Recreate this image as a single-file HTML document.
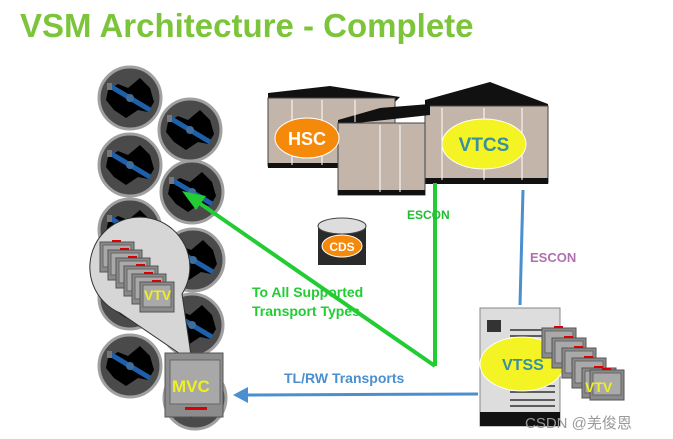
<!DOCTYPE html>
<html><head><style>
body{margin:0;background:#fff;width:673px;height:439px;overflow:hidden}
svg{display:block}
text{font-family:"Liberation Sans",Arial,sans-serif;font-weight:bold}
</style></head><body>
<svg width="673" height="439" viewBox="0 0 673 439" xmlns="http://www.w3.org/2000/svg">
<defs>
<g id="tape">
<circle r="31" fill="#4a4a4a" stroke="#a0a0a0" stroke-width="3"/>
<polygon points="-22,-8 -12,-14 -2,-10 10,-20 20,-10 24,4 18,14 8,12 -4,20 -16,12 -24,2" fill="#000"/>
<line x1="-20" y1="-12" x2="20" y2="12" stroke="#1d5fa8" stroke-width="5"/>
<circle r="4" fill="#3f6d9c"/>
<rect x="-23" y="-15" width="5" height="7" fill="#777"/>
</g>
<g id="vtv">
<rect x="0" y="0" width="34" height="30" fill="#8a8a8a" stroke="#555"/>
<rect x="3" y="3" width="28" height="22" fill="#a9a9a9" stroke="#666"/>
<rect x="12" y="-2" width="9" height="2" fill="#d00"/>
</g>
</defs>
<text x="20" y="37" font-size="33" fill="#7cc43a">VSM Architecture - Complete</text>

<use href="#tape" x="130" y="98"/>
<use href="#tape" x="190" y="130"/>
<use href="#tape" x="130" y="165"/>
<use href="#tape" x="192" y="192"/>
<use href="#tape" x="130" y="230"/>
<use href="#tape" x="193" y="260"/>
<use href="#tape" x="130" y="298"/>
<use href="#tape" x="192" y="325"/>
<use href="#tape" x="130" y="366"/>
<use href="#tape" x="195" y="398"/>

<!-- bubble -->
<path d="M 120,313 A 50 50 0 1 1 182,294 L 192,362 Z" fill="#d6d6d6" stroke="#333"/>
<use href="#vtv" x="100" y="242"/>
<use href="#vtv" x="108" y="250"/>
<use href="#vtv" x="116" y="258"/>
<use href="#vtv" x="124" y="266"/>
<use href="#vtv" x="132" y="274"/>
<use href="#vtv" x="140" y="282"/>
<text x="144" y="300" font-size="14" fill="#f0f020">VTV</text>

<!-- MVC -->
<rect x="165" y="353" width="58" height="64" fill="#8c8c8c" stroke="#555"/>
<rect x="170" y="360" width="50" height="44" fill="#a8a8a8" stroke="#666"/>
<text x="172" y="392" font-size="17" fill="#f0f020">MVC</text>
<rect x="185" y="407" width="22" height="3" fill="#d00"/>

<!-- servers -->
<polygon points="268,93 330,86 400,97 395,102 268,100" fill="#111"/>
<rect x="268" y="98" width="127" height="68" fill="#c4b5aa" stroke="#444"/>
<rect x="268" y="163" width="127" height="5" fill="#111"/>
<polygon points="425,100 490,82 548,104 548,110 425,108" fill="#111"/>
<rect x="425" y="106" width="123" height="77" fill="#c4b5aa" stroke="#444"/>
<rect x="425" y="178" width="123" height="6" fill="#111"/>
<polygon points="338,120 380,108 430,104 430,115 338,125" fill="#111"/>
<rect x="338" y="123" width="87" height="72" fill="#c4b5aa" stroke="#444"/>
<rect x="338" y="190" width="87" height="5" fill="#111"/>
<g stroke="#fff" stroke-width="1">
<line x1="292" y1="100" x2="292" y2="165"/><line x1="322" y1="100" x2="322" y2="165"/><line x1="355" y1="100" x2="355" y2="122"/>
<line x1="380" y1="125" x2="380" y2="192"/><line x1="400" y1="125" x2="400" y2="192"/>
<line x1="442" y1="108" x2="442" y2="180"/><line x1="484" y1="108" x2="484" y2="180"/><line x1="522" y1="108" x2="522" y2="180"/>
</g>
<ellipse cx="307" cy="138" rx="32" ry="20" fill="#f58a0a" stroke="#fff"/>
<text x="307" y="145" font-size="18" fill="#fff" text-anchor="middle">HSC</text>
<ellipse cx="484" cy="144" rx="42" ry="25" fill="#f4f424" stroke="#fff"/>
<text x="484" y="151" font-size="19" fill="#3a8fa0" text-anchor="middle">VTCS</text>

<!-- CDS -->
<rect x="318" y="226" width="48" height="39" fill="#2a2a2a"/>
<ellipse cx="342" cy="226" rx="24" ry="8" fill="#ddd" stroke="#444"/>
<ellipse cx="342" cy="246" rx="20" ry="11" fill="#f58a0a" stroke="#fff"/>
<text x="342" y="251" font-size="12" fill="#fff" text-anchor="middle">CDS</text>

<!-- lines -->
<line x1="435" y1="183" x2="435" y2="366" stroke="#22cc33" stroke-width="4"/>
<line x1="435" y1="366" x2="195" y2="200" stroke="#22cc33" stroke-width="4"/>
<polygon points="182,191 206,196 196,210" fill="#22cc33"/>
<text x="407" y="219" font-size="12" fill="#22bb33">ESCON</text>
<line x1="523" y1="190" x2="520" y2="305" stroke="#4a8fcf" stroke-width="3"/>
<text x="530" y="262" font-size="13" fill="#b070b0">ESCON</text>
<line x1="478" y1="394" x2="245" y2="395" stroke="#4a8fcf" stroke-width="3"/>
<polygon points="233,395 248,387 248,403" fill="#4a8fcf"/>
<text x="284" y="383" font-size="14" fill="#4a8fcf">TL/RW Transports</text>
<text x="252" y="297" font-size="14" fill="#22cc33">To All Supported</text>
<text x="252" y="316" font-size="14" fill="#22cc33">Transport Types</text>

<!-- VTSS -->
<rect x="480" y="308" width="80" height="118" fill="#ddd" stroke="#888"/>
<rect x="480" y="412" width="80" height="14" fill="#111"/>
<rect x="487" y="320" width="14" height="12" fill="#333"/>
<g stroke="#333" stroke-width="1.5">
<line x1="510" y1="330" x2="555" y2="330"/><line x1="510" y1="336" x2="555" y2="336"/><line x1="510" y1="342" x2="555" y2="342"/>
<line x1="510" y1="380" x2="555" y2="380"/><line x1="510" y1="386" x2="555" y2="386"/><line x1="510" y1="392" x2="555" y2="392"/>
<line x1="510" y1="400" x2="555" y2="400"/><line x1="510" y1="406" x2="555" y2="406"/>
</g>
<ellipse cx="522" cy="364" rx="42" ry="27" fill="#f4f424" stroke="#fff"/>
<text x="502" y="370" font-size="16" fill="#3a8fa0">VTSS</text>
<use href="#vtv" x="542" y="328"/>
<use href="#vtv" x="552" y="338"/>
<use href="#vtv" x="562" y="348"/>
<use href="#vtv" x="572" y="358"/>
<use href="#vtv" x="582" y="368"/>
<use href="#vtv" x="590" y="370"/>
<text x="585" y="392" font-size="14" fill="#f0f020">VTV</text>
<text x="525" y="428" font-size="15" fill="#999" style="font-weight:normal;font-family:'Liberation Sans','Noto Sans CJK SC',sans-serif">CSDN @羌俊恩</text>
</svg>
</body></html>
